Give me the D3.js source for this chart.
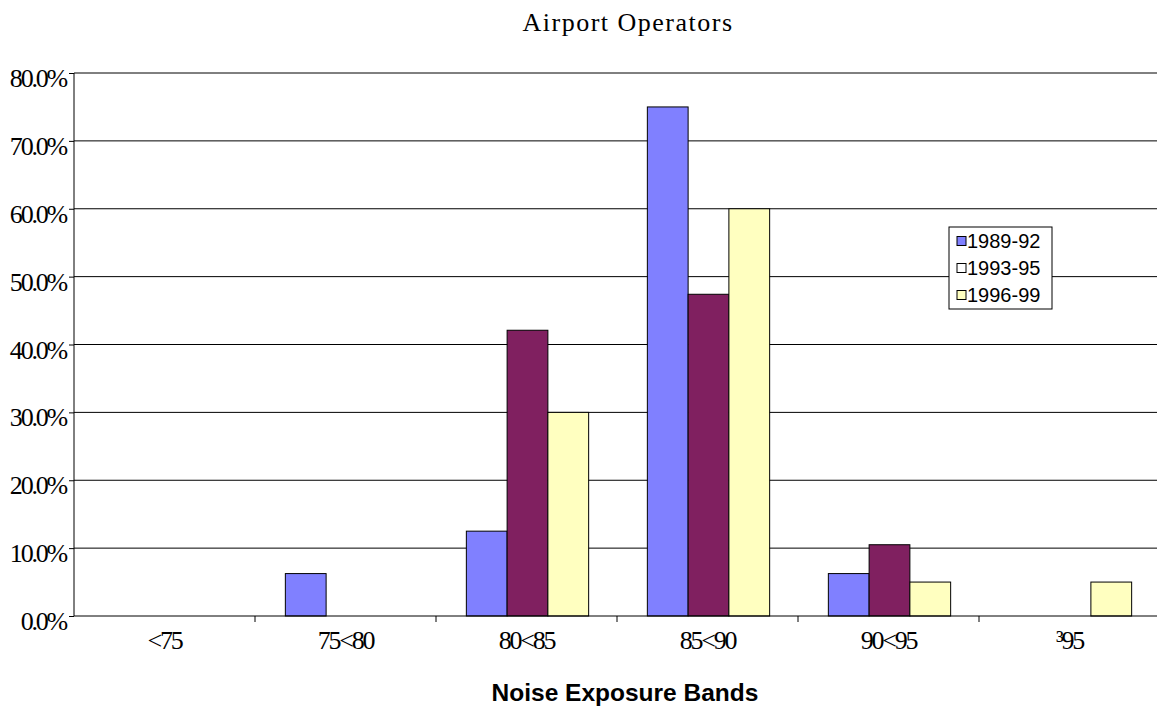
<!DOCTYPE html>
<html>
<head>
<meta charset="utf-8">
<script src="https://cdnjs.cloudflare.com/ajax/libs/d3/7.8.5/d3.min.js"></script>
<style>
	body { margin: 0; background: #fff; }
	svg { display: block; }
</style>
</head>
<body>
<div id="chart"></div>
<script>
// data
const bands = ['<75', '75<80', '80<85', '85<90', '90<95', '\u00B395'];
const seriesNames = ['1989-92', '1993-95', '1996-99'];
const values8992 = [0, 6.25, 12.5, 75.0, 6.25, 0];
const values9395 = [0, 0, 42.1, 47.4, 10.5, 0];
const values9699 = [0, 0, 30.0, 60.0, 5.0, 5.0];
const yTicks = [0, 10, 20, 30, 40, 50, 60, 70, 80];

(() => {
	const width = 1157;
	const height = 709;
	const margin = { top: 73, right: -3, bottom: 93, left: 74 };
	const innerW = width - margin.left - margin.right;
	const innerH = height - margin.top - margin.bottom;

	const colors = ['#8080ff', '#802060', '#ffffc0'];
	const legendColors = ['#8080ff', '#ffffff', '#ffffc0'];
	const serif = '"Liberation Serif", "Times New Roman", serif';
	const sans = '"Liberation Sans", Arial, sans-serif';

	const rows = bands.map((b, i) => ({
		band: b,
		vals: [values8992[i], values9395[i], values9699[i]]
	}));

	const svg = d3.select('#chart').append('svg')
		.attr('width', width)
		.attr('height', height);

	const chart = svg.append('g')
		.attr('transform', `translate(${margin.left}, ${margin.top})`);

	const x0 = d3.scaleBand()
		.domain(bands)
		.range([0, innerW])
		.padding(0);
	const x1 = d3.scaleBand()
		.domain(d3.range(seriesNames.length))
		.range([0, x0.bandwidth()])
		.paddingInner(0)
		.paddingOuter(0.72);
	const y = d3.scaleLinear()
		.domain([0, 80])
		.range([innerH, 0]);

	// gridlines
	chart.append('g')
		.selectAll('line')
		.data(yTicks.filter(t => t > 0))
		.enter().append('line')
			.attr('x1', 0)
			.attr('x2', innerW)
			.attr('y1', d => y(d))
			.attr('y2', d => y(d))
			.style('stroke', '#000')
			.style('stroke-width', 1);

	// bars
	const groups = chart.append('g')
		.selectAll('g')
		.data(rows)
		.enter().append('g')
			.attr('transform', d => `translate(${x0(d.band) + 1}, 0)`);

	groups.selectAll('rect')
		.data(d => d.vals.map((v, i) => ({ v, i })).filter(e => e.v > 0))
		.enter().append('rect')
			.attr('x', d => x1(d.i))
			.attr('width', x1.bandwidth())
			.attr('y', d => y(d.v))
			.attr('height', d => innerH - y(d.v))
			.style('fill', d => colors[d.i])
			.style('stroke', '#000')
			.style('stroke-width', 1);

	// axes
	const yAxis = d3.axisLeft(y)
		.tickValues(yTicks)
		.tickSize(5)
		.tickPadding(3)
		.tickFormat(d => d3.format('.1f')(d) + '%');
	const yAxisG = chart.append('g')
		.call(yAxis);
	yAxisG.select('.domain').attr('d', `M0,${innerH}V0`);
	yAxisG.selectAll('.tick line').style('stroke', '#000');
	yAxisG.selectAll('text')
		.attr('dy', '0.52em')
		.style('font-family', serif)
		.style('font-size', '26px')
		.style('letter-spacing', '-2.2px')
		.style('fill', '#000');

	const xAxis = d3.axisBottom(x0)
		.tickSize(0)
		.tickPadding(8)
		.tickFormat(d => d);
	const xAxisG = chart.append('g')
		.attr('transform', `translate(0, ${innerH})`)
		.call(xAxis);
	xAxisG.select('.domain').attr('d', `M0,0H${innerW}`);
	xAxisG.selectAll('text')
		.attr('dy', '0.95em')
		.style('font-family', serif)
		.style('font-size', '26px')
		.style('letter-spacing', '-2.2px')
		.style('fill', '#000');

	// tick marks between categories
	chart.append('g')
		.attr('transform', `translate(0, ${innerH})`)
		.selectAll('line')
		.data(bands.slice(1))
		.enter().append('line')
			.attr('x1', d => x0(d))
			.attr('x2', d => x0(d))
			.attr('y1', 0)
			.attr('y2', 6)
			.style('stroke', '#000');

	// labels
	svg.append('text')
		.attr('x', 628)
		.attr('y', 31)
		.style('font-family', serif)
		.style('font-size', '26px')
		.style('letter-spacing', '1.5px')
		.style('text-anchor', 'middle')
		.text('Airport Operators');

	svg.append('text')
		.attr('x', 625)
		.attr('y', 701)
		.style('font-family', sans)
		.style('font-size', '24.5px')
		.style('font-weight', 700)
		.style('text-anchor', 'middle')
		.text('Noise Exposure Bands');

	// legend
	const legend = svg.append('g')
		.attr('transform', 'translate(949, 227)');
	legend.append('rect')
		.attr('width', 103)
		.attr('height', 82)
		.style('fill', '#fff')
		.style('stroke', '#000');
	const items = legend.selectAll('.item')
		.data(seriesNames)
		.enter().append('g')
			.attr('class', 'item')
			.attr('transform', (d, i) => `translate(8, ${14 + i * 27})`);
	items.append('rect')
		.attr('y', -4.5)
		.attr('width', 9)
		.attr('height', 9)
		.style('fill', (d, i) => legendColors[i])
		.style('stroke', '#000');
	items.append('text')
		.attr('x', 10)
		.attr('y', 7)
		.style('font-family', sans)
		.style('font-size', '20px')
		.text(d => d);
})();
</script>
</body>
</html>
